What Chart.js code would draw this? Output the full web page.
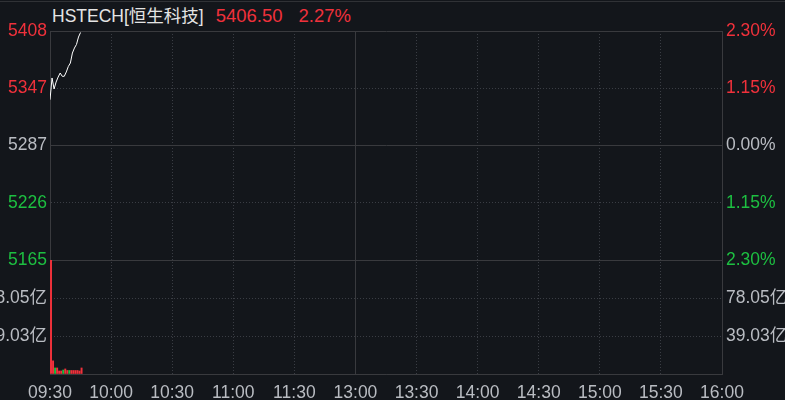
<!DOCTYPE html>
<html>
<head>
<meta charset="utf-8">
<script src="https://cdn.jsdelivr.net/npm/chart.js@4.4.1/dist/chart.umd.min.js"></script>
<style>
html,body{margin:0;padding:0;background:#13161b;overflow:hidden}
#wrap{position:relative;width:785px;height:400px;background:#13161b}
#topline{position:absolute;left:0;top:1px;width:785px;height:1px;background:#303236}
#hdr{position:absolute;left:52px;top:5px;height:22px;line-height:22px;font-family:"Liberation Sans","Noto Sans CJK SC",sans-serif;font-size:17.5px;white-space:nowrap;color:#e4e4e4}
#hdr .up{color:#f0313b;font-size:18.5px}
#px{margin-left:12px}
#pct{margin-left:16px}
#c{position:absolute;left:0;top:0}
</style>
</head>
<body>
<div id="wrap">
  <div id="topline"></div>
  <div id="hdr"><span>HSTECH[恒生科技]</span><span class="up" id="px"></span><span class="up" id="pct"></span></div>
  <canvas id="c" width="785" height="400"></canvas>
</div>
<script>
// ---- data ----
const symbolName = 'HSTECH[恒生科技]';
const prevClose = 5286.5;
const lastPrice = 5406.50;
const changePct = 2.27;
const pctRange = 2.30;
const totalMinutes = 330;
const timeLabels = ['09:30','10:00','10:30','11:00','11:30','13:00','13:30','14:00','14:30','15:00','15:30','16:00'];
const minutes = [0,1,2,3,4,5,6,7,8,9,10,11,12,13,14,15];
const prices = [5335.1,5358.2,5346.5,5353.9,5359.2,5363.5,5360.0,5360.0,5364.6,5370.4,5374.1,5384.7,5390.0,5393.8,5401.7,5406.5];
const volumes = [117.08,13.5,6.2,6.2,3.1,3.1,4.1,5.2,3.6,3.6,3.6,3.6,3.6,3.6,3.1,6.2];
const volumeSide = [1,1,-1,1,1,1,-1,1,1,-1,1,1,1,1,1,1];
const volumeMax = 117.08;

document.getElementById('px').textContent = lastPrice.toFixed(2);
document.getElementById('pct').textContent = changePct.toFixed(2) + '%';

const RED = '#f0313b', GREEN = '#1dbf41', GREY = '#b9bcc2';
const SOLID = '#393a3e', DOT = '#3a3d44';
const FONT = {family:'"Liberation Sans","Noto Sans CJK SC",sans-serif', size:17.5};
const pMin = prevClose * (1 - pctRange/100), pMax = prevClose * (1 + pctRange/100);
const priceTickVals = [-2,-1,0,1,2].map(k => prevClose * (1 + k*pctRange/200));
const volTickVals = [0,1,2,3].map(k => volumeMax * k / 3);
const eps = 1e-6;

function priceColor(v){ return Math.abs(v-prevClose) < 0.01 ? GREY : (v > prevClose ? RED : GREEN); }
function priceSolid(v){ return Math.abs(v-prevClose) < 0.01 || Math.abs(v-pMin) < 0.01 || Math.abs(v-pMax) < 0.01; }

const priceAxisCommon = {
  min: pMin, max: pMax,
  afterBuildTicks: s => { s.ticks = priceTickVals.map(v => ({value:v})); },
  grid: {color: ctx => (ctx.tick && priceSolid(ctx.tick.value)) ? SOLID : DOT, drawTicks:false, lineWidth:1},
  border: {color: SOLID, dash: ctx => (ctx.tick && !priceSolid(ctx.tick.value)) ? [1,2] : []}
};
const volAxisCommon = {
  min: 0, max: volumeMax,
  afterBuildTicks: s => { s.ticks = volTickVals.map(v => ({value:v})); },
  grid: {color: ctx => (ctx.tick && (ctx.tick.value < eps || ctx.tick.value > volumeMax - 0.01)) ? SOLID : DOT, drawTicks:false, lineWidth:1},
  border: {color: SOLID, dash: ctx => (ctx.tick && ctx.tick.value > eps && ctx.tick.value < volumeMax - 0.01) ? [1,2] : []}
};
function volLabel(v){ return (v < eps || v > volumeMax - 0.01) ? '' : v.toFixed(2) + '亿'; }

new Chart(document.getElementById('c'), {
  data: {
    datasets: [
      {type:'line', yAxisID:'y', xAxisID:'x', data: minutes.map((m,i)=>({x:m, y:prices[i]})),
       borderColor:'#ffffff', borderWidth:1, pointRadius:0, tension:0, fill:false},
      {type:'bar', yAxisID:'vol', xAxisID:'x', data: minutes.map((m,i)=>({x:m+0.5, y:volumes[i]})),
       backgroundColor: volumeSide.map(s => s > 0 ? RED : GREEN), barThickness:1.3, borderWidth:0}
    ]
  },
  options: {
    responsive:false, animation:false, devicePixelRatio:1,
    layout:{padding:{top:31, left:0, right:0, bottom:0}},
    plugins:{legend:{display:false}, tooltip:{enabled:false}},
    scales: {
      x: {type:'linear', min:0, max:totalMinutes, offset:false,
        afterBuildTicks: s => { s.ticks = timeLabels.map((_,i)=>({value:i*30})); },
        afterFit: s => { s.height = 26; },
        ticks:{callback:(v,i)=>timeLabels[i], color:GREY, font:FONT, padding:9, maxRotation:0, autoSkip:false},
        grid:{offset:false, color: ctx => (ctx.index===0||ctx.index===5||ctx.index===11) ? SOLID : DOT, drawTicks:false, lineWidth:1},
        border:{color:SOLID, dash: ctx => (ctx.tick && !(ctx.index===0||ctx.index===5||ctx.index===11)) ? [1,2] : []}
      },
      vol: Object.assign({type:'linear', position:'left', stack:'L', stackWeight:114,
        afterFit: s => { s.width = 50; },
        ticks:{callback: v => volLabel(v), color:GREY, font:FONT, padding:3, autoSkip:false}}, volAxisCommon),
      y: Object.assign({type:'linear', position:'left', stack:'L', stackWeight:229,
        afterFit: s => { s.width = 50; },
        ticks:{callback: v => String(Math.round(v)), color: ctx => priceColor(ctx.tick.value), font:FONT, padding:3, autoSkip:false}}, priceAxisCommon),
      yr: Object.assign({}, priceAxisCommon, {type:'linear', position:'right', stack:'R', stackWeight:229,
        afterFit: s => { s.width = 63; },
        grid:{drawOnChartArea:false, drawTicks:false},
        ticks:{callback: v => Math.abs((v-prevClose)/prevClose*100).toFixed(2) + '%', color: ctx => priceColor(ctx.tick.value), font:FONT, padding:4, autoSkip:false}}),
      vr: Object.assign({}, volAxisCommon, {type:'linear', position:'right', stack:'R', stackWeight:114,
        afterFit: s => { s.width = 63; },
        grid:{drawOnChartArea:false, drawTicks:false},
        ticks:{callback: v => volLabel(v), color:GREY, font:FONT, padding:4, autoSkip:false}})
    }
  }
});
</script>
</body>
</html>
